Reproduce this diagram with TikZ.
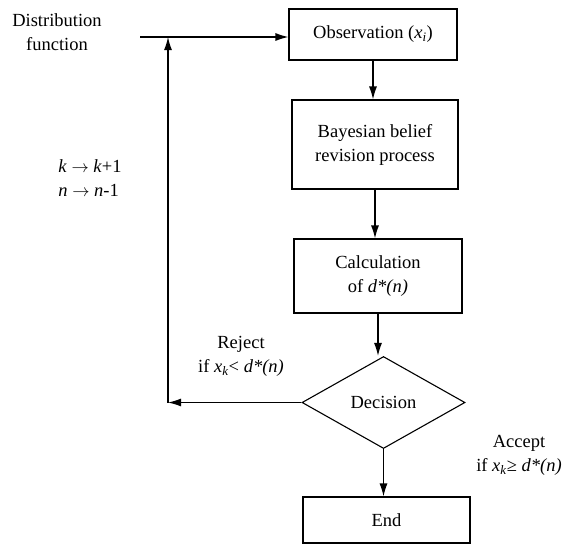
\documentclass[tikz,border=0pt]{standalone}
\usepackage{fontspec}
\setmainfont{Liberation Serif}
\usetikzlibrary{arrows.meta,shapes.geometric}
\tikzset{
  box/.style={draw, line width=1.1pt, rectangle, align=center, inner sep=0pt},
  decision/.style={draw, line width=1.1pt, diamond, aspect=1.77, inner sep=0pt,
    minimum width=163pt, minimum height=92pt},
  arr/.style={-{Latex[length=13pt,width=8pt]}, line width=1.2pt},
  lbl/.style={align=center, inner sep=0pt}
}
\begin{document}
\begin{tikzpicture}[x=1pt, y=-1pt, font=\fontsize{18.5}{24}\selectfont]
    \useasboundingbox (0,0) rectangle (567,544);

    % boxes of the flow
    \node[box, minimum width=168pt, minimum height=51pt] (obs) at (373,34.5) {Observation (\textit{x}\textsubscript{\textit{i}})};
    \node[box, minimum width=166pt, minimum height=89pt] (bay) at (375,144.5) {Bayesian belief\\revision process};
    \node[box, minimum width=168pt, minimum height=74pt] (calc) at (378,276) {Calculation\\of \textit{d*(n)}};
    \node[decision] (dec) at (383.5,402.5) {Decision};
    \node[box, minimum width=167pt, minimum height=46pt] (end) at (386.5,520) {End};

    % texts
    \node[lbl] (dist) at (57,32) {Distribution\\function};
    \node[lbl, align=left] (upd) at (90,178) {\textit{k} $\rightarrow$ \textit{k}+1\\\textit{n} $\rightarrow$ \textit{n}-1};
    \node[lbl] (rej) at (241,356) {Reject\\if \textit{x}\textsubscript{\textit{k}}< \textit{d*(n)}};
    \node[lbl] (acc) at (519,455) {Accept\\if \textit{x}\textsubscript{\textit{k}}≥ \textit{d*(n)}};

    \coordinate (din) at (140,37);
    \coordinate (jn) at (168,37);

    %arrows
    \draw[arr] (din) -- (obs.west |- din);
    \draw[arr] (obs.south) -- (obs.south |- bay.north);
    \draw[arr] (bay.south) -- (bay.south |- calc.north);
    \draw[arr] (calc.south) -- (calc.south |- dec.north);
    \draw[arr] (dec.south) -- (dec.south |- end.north);
    % loop back
    \draw[arr] (dec.west) -- (dec.west -| jn);
    \draw[arr] (dec.west -| jn) -- (jn);
\end{tikzpicture}
\end{document}
